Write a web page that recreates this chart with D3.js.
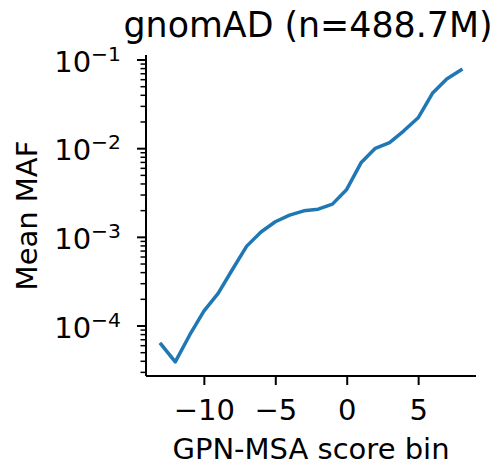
<!DOCTYPE html>
<html>
<head>
<meta charset="utf-8">
<script src="https://cdn.jsdelivr.net/npm/d3@7/dist/d3.min.js"></script>
<style>
  html, body { margin: 0; padding: 0; background: #fff; }
  svg { display: block; }
  text { font-family: "DejaVu Sans", sans-serif; fill: #000; }
</style>
</head>
<body>
<svg id="chart" width="502" height="469"></svg>
<script>
// GPN-MSA score bins and the mean minor allele frequency in each bin
const scoreBins = [-13, -12, -11, -10, -9, -8, -7, -6, -5, -4, -3, -2, -1, 0, 1, 2, 3, 4, 5, 6, 7, 8];
const meanMAF = [6.24e-5, 3.94e-5, 7.87e-5, 1.47e-4, 2.33e-4, 4.34e-4, 7.96e-4, 1.15e-3, 1.50e-3, 1.78e-3,
                 1.99e-3, 2.08e-3, 2.37e-3, 3.47e-3, 6.93e-3, 1.01e-2, 1.17e-2, 1.59e-2, 2.23e-2, 4.21e-2,
                 6.11e-2, 7.71e-2];
const xTicks = [-10, -5, 0, 5];
const yTicks = [1e-4, 1e-3, 1e-2, 1e-1];
const titleText = "gnomAD (n=488.7M)";
const xLabel = "GPN-MSA score bin";
const yLabel = "Mean MAF";

const svg = d3.select("#chart");
const plotLeft = 146, plotRight = 476, plotTop = 55, plotBottom = 376;

const x = d3.scaleLinear().domain([-14.05, 9.05]).range([plotLeft, plotRight]);
const y = d3.scaleLog().domain([2.73e-5, 0.1139]).range([plotBottom, plotTop]);

const tickFont = 29;
const minus = "\u2212";

// line
const line = d3.line()
  .x((d, i) => x(scoreBins[i]))
  .y(d => y(d));
svg.append("path")
  .datum(meanMAF)
  .attr("d", line)
  .attr("fill", "none")
  .attr("stroke", "#1f77b4")
  .attr("stroke-width", 3.5)
  .attr("stroke-linejoin", "round")
  .attr("stroke-linecap", "square");

// x axis
const xAxis = d3.axisBottom(x)
  .tickValues(xTicks)
  .tickSize(9)
  .tickPadding(14)
  .tickFormat(d => (d < 0 ? minus + Math.abs(d) : String(d)));
const gx = svg.append("g").attr("transform", `translate(0,${plotBottom})`).call(xAxis);
gx.select(".domain").attr("d", `M${plotLeft},0H${plotRight}`).attr("stroke", "#000").attr("stroke-width", 2);
gx.selectAll(".tick line").attr("stroke", "#000").attr("stroke-width", 2);
gx.selectAll(".tick text").attr("font-size", tickFont).attr("font-family", "DejaVu Sans").attr("fill", "#000");

// y axis: minor ticks at every 2..9 within each decade
const [yMin, yMax] = y.domain();
const minorTicks = [];
for (let e = -5; e <= -1; e++) {
  for (let m = 2; m <= 9; m++) {
    const v = m * Math.pow(10, e);
    if (v >= yMin && v <= yMax) minorTicks.push(v);
  }
}
const gy = svg.append("g").attr("transform", `translate(${plotLeft},0)`);
gy.append("path")
  .attr("d", `M0,${plotTop}V${plotBottom}`)
  .attr("stroke", "#000").attr("stroke-width", 2).attr("fill", "none");
gy.selectAll("line.minor").data(minorTicks).join("line")
  .attr("class", "minor")
  .attr("x1", -5.5).attr("x2", 0)
  .attr("y1", d => y(d)).attr("y2", d => y(d))
  .attr("stroke", "#000").attr("stroke-width", 1.5);
gy.selectAll("line.major").data(yTicks).join("line")
  .attr("class", "major")
  .attr("x1", -9).attr("x2", 0)
  .attr("y1", d => y(d)).attr("y2", d => y(d))
  .attr("stroke", "#000").attr("stroke-width", 2);
const yLabels = gy.selectAll("text.ylab").data(yTicks).join("text")
  .attr("class", "ylab")
  .attr("x", -25)
  .attr("y", d => y(d) + 11.5)
  .attr("text-anchor", "end")
  .attr("font-size", tickFont);
yLabels.append("tspan").text("10");
yLabels.append("tspan")
  .attr("font-size", tickFont * 0.7)
  .attr("dy", -11)
  .text(d => minus + Math.round(-Math.log10(d)));

// axis labels
svg.append("text")
  .attr("x", (plotLeft + plotRight) / 2)
  .attr("y", 459)
  .attr("text-anchor", "middle")
  .attr("font-size", 29)
  .text(xLabel);
svg.append("text")
  .attr("transform", `translate(37,${(plotTop + plotBottom) / 2}) rotate(-90)`)
  .attr("text-anchor", "middle")
  .attr("font-size", 29)
  .text(yLabel);

// title
svg.append("text")
  .attr("x", 308)
  .attr("y", 37)
  .attr("text-anchor", "middle")
  .attr("font-size", 34.8)
  .text(titleText);
</script>
</body>
</html>
